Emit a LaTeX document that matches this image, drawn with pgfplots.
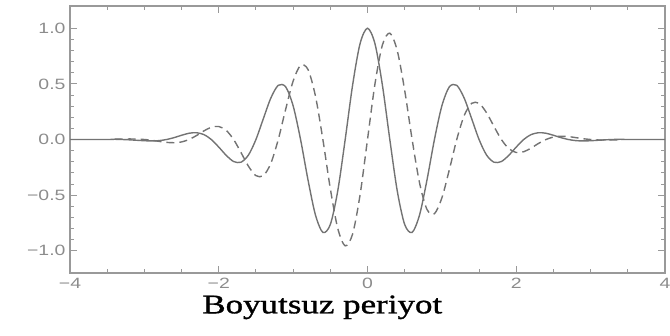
\documentclass[border=0pt]{standalone}
\usepackage{fontspec}
\setmainfont{Liberation Serif}
\newfontfamily\tickfont[FakeStretch=1.3]{Liberation Sans}
\newfontfamily\labelfont[FakeStretch=1.3,FakeBold=1.2]{Liberation Serif}
\usepackage{pgfplots}
\pgfplotsset{compat=1.18}
\definecolor{linegray}{gray}{0.45}
\definecolor{framegray}{gray}{0.6}
\definecolor{textgray}{gray}{0.55}
\begin{document}
\begin{tikzpicture}
\begin{axis}[
  scale only axis,
  width=595bp, height=267bp,
  xmin=-4, xmax=4, ymin=-1.2, ymax=1.2,
  xtick={-4,-2,0,2,4},
  xticklabels={−4,−2,0,2,4},
  minor x tick num=3,
  ytick={-1,-0.5,0,0.5,1},
  yticklabels={−1.0,−0.5,0.0,0.5,1.0},
  minor y tick num=4,
  tick pos=both,
  tick align=inside,
  major tick length=7bp,
  minor tick length=4bp,
  axis line style={framegray, line width=1.2bp},
  every tick/.style={framegray, line width=0.9bp},
  tick label style={font=\tickfont\fontsize{15}{16}\selectfont, text=textgray},
  xticklabel style={yshift=-2bp},
  yticklabel style={xshift=-1bp},
  xlabel={\labelfont\fontsize{27}{28}\selectfont Boyutsuz periyot},
  xlabel style={at={(axis description cs:0.424,0)}, anchor=north, yshift=-19bp},
  clip=true,
]
\addplot[linegray, line width=1.4bp, smooth] coordinates {
(-4,0) (-3.5,0) (-3.4,0.002) (-3.3,0) (-3.2,-0.003) (-3.1,-0.007) (-3.0,-0.011) (-2.9,-0.013) (-2.8,-0.010) (-2.7,0) (-2.6,0.017) (-2.5,0.038) (-2.4,0.056) (-2.3,0.061) (-2.2,0.044) (-2.1,0) (-2.0,-0.068) (-1.9,-0.142) (-1.8,-0.198) (-1.7,-0.204) (-1.6,-0.139) (-1.5,0) (-1.4,0.188) (-1.3,0.372) (-1.2,0.487) (-1.1,0.473) (-1.0,0.303) (-0.9,0) (-0.8,-0.363) (-0.7,-0.678) (-0.6,-0.835) (-0.5,-0.764) (-0.4,-0.462) (-0.3,0) (-0.2,0.490) (-0.1,0.862) (0,1)
(0.1,0.862) (0.2,0.490) (0.3,0) (0.4,-0.462) (0.5,-0.764) (0.6,-0.835) (0.7,-0.678) (0.8,-0.363) (0.9,0) (1.0,0.303) (1.1,0.473) (1.2,0.487) (1.3,0.372) (1.4,0.188) (1.5,0) (1.6,-0.139) (1.7,-0.204) (1.8,-0.198) (1.9,-0.142) (2.0,-0.068) (2.1,0) (2.2,0.044) (2.3,0.061) (2.4,0.056) (2.5,0.038) (2.6,0.017) (2.7,0) (2.8,-0.010) (2.9,-0.013) (3.0,-0.011) (3.1,-0.007) (3.2,-0.003) (3.3,0) (3.4,0.002) (3.5,0) (4,0)
};
\addplot[linegray, line width=1.4bp, smooth, dash pattern=on 8bp off 5bp] coordinates {
(-3.4,0.003) (-3.3,0.004) (-3.2,0.005) (-3.1,0.004) (-3.0,0) (-2.9,-0.007) (-2.8,-0.017) (-2.7,-0.026) (-2.6,-0.029) (-2.5,-0.022) (-2.4,0) (-2.3,0.035) (-2.2,0.077) (-2.1,0.110) (-2.0,0.117) (-1.9,0.082) (-1.8,0) (-1.7,-0.118) (-1.6,-0.241) (-1.5,-0.325) (-1.4,-0.325) (-1.3,-0.215) (-1.2,0) (-1.1,0.273) (-1.0,0.525) (-0.9,0.667) (-0.8,0.629) (-0.7,0.391) (-0.6,0) (-0.5,-0.441) (-0.4,-0.799) (-0.3,-0.956) (-0.2,-0.849) (-0.1,-0.498) (0,0)
(0.1,0.498) (0.2,0.849) (0.3,0.956) (0.4,0.799) (0.5,0.441) (0.6,0) (0.7,-0.391) (0.8,-0.629) (0.9,-0.667) (1.0,-0.525) (1.1,-0.273) (1.2,0) (1.3,0.215) (1.4,0.325) (1.5,0.325) (1.6,0.241) (1.7,0.118) (1.8,0) (1.9,-0.082) (2.0,-0.117) (2.1,-0.110) (2.2,-0.077) (2.3,-0.035) (2.4,0) (2.5,0.022) (2.6,0.029) (2.7,0.026) (2.8,0.017) (2.9,0.007) (3.0,0) (3.1,-0.004) (3.2,-0.005) (3.3,-0.004) (3.4,-0.003)
};
\end{axis}
\pgfresetboundingbox
\path[use as bounding box] (-70bp,-63bp) rectangle (600bp,273bp);
\end{tikzpicture}
\end{document}
